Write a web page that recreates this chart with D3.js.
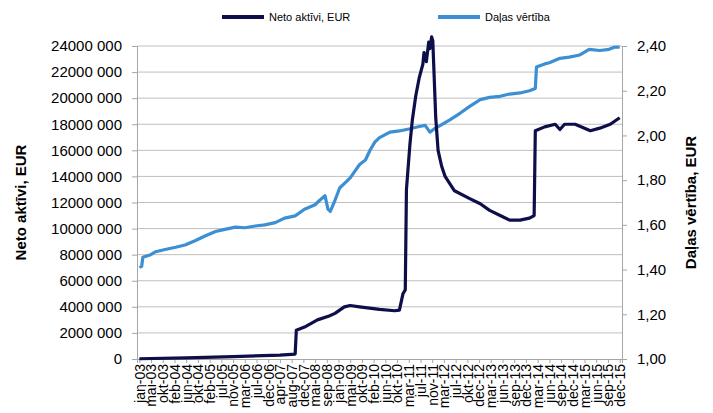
<!DOCTYPE html>
<html>
<head>
<meta charset="utf-8">
<script src="https://cdn.jsdelivr.net/npm/d3@7"></script>
<style>
  body { margin: 0; background: #fff; }
  text { font-family: "Liberation Sans", Arial, sans-serif; }
</style>
</head>
<body>
<script>
// x labels, one every 10 observations
const labels = ['jan-03','mai-03','okt-03','feb-04','jun-04','okt-04','feb-05','jul-05','nov-05','mar-06',
  'jul-06','dec-06','apr-07','aug-07','dec-07','mai-08','sep-08','jan-09','mai-09','okt-09',
  'feb-10','jun-10','okt-10','mar-11','jul-11','nov-11','mar-12','jul-12','okt-12','dec-12',
  'mar-13','jun-13','sep-13','dec-13','mar-14','jun-14','sep-14','dec-14','mar-15','jun-15',
  'sep-15','dec-15']

// Neto aktivi, EUR  [observation, value]
const netAssets = [
  [0, 20000], [40, 80000], [80, 180000], [120, 300000], [133, 380000], [134, 2200000],
  [141, 2450000], [152, 3000000], [162, 3300000], [167, 3500000], [175, 4000000], [180, 4100000],
  [188, 4000000], [205, 3800000], [218, 3700000], [222, 3750000], [225, 5000000], [227, 5300000],
  [228, 13000000], [231, 16500000], [233, 18300000], [236, 20200000], [239, 21600000], [242, 22600000],
  [243, 23500000], [245, 22800000], [247, 24300000], [248, 23800000], [249.5, 24700000], [250.5, 24400000],
  [253, 18500000], [255, 16000000], [258, 14800000], [261, 14000000], [269, 12900000], [282, 12300000],
  [291, 11900000], [299, 11400000], [308, 11000000], [316, 10650000], [325, 10650000], [333, 10800000],
  [337, 11000000], [338, 17500000], [346, 17800000], [355, 18000000], [359, 17600000], [363, 18000000],
  [372, 18000000], [385, 17500000], [393, 17700000], [402, 18000000], [410, 18500000]
]

// Dalas vertiba  [observation, value]
const unitValue = [
  [0, 1.41], [2, 1.415], [3, 1.455], [9, 1.465], [14, 1.48], [22, 1.49], [31, 1.50], [39, 1.51],
  [48, 1.53], [56, 1.55], [65, 1.57], [73, 1.58], [82, 1.59], [90, 1.587], [99, 1.595], [107, 1.60],
  [116, 1.61], [124, 1.63], [133, 1.64], [141, 1.67], [150, 1.69], [154, 1.71], [158.5, 1.73],
  [161, 1.67], [163, 1.66], [167, 1.71], [171, 1.765], [176, 1.79], [180, 1.81], [184, 1.84],
  [188, 1.87], [193, 1.89], [197, 1.935], [201, 1.97], [205, 1.99], [214, 2.015], [222, 2.02],
  [231, 2.03], [239, 2.04], [244, 2.045], [248, 2.015], [252, 2.03], [257, 2.045], [265, 2.07],
  [274, 2.10], [282, 2.13], [291, 2.16], [299, 2.17], [308, 2.175], [316, 2.185], [325, 2.19],
  [333, 2.20], [338, 2.21], [339, 2.306], [346, 2.32], [350, 2.325], [359, 2.345], [367, 2.35],
  [376, 2.36], [384, 2.385], [393, 2.38], [401, 2.385], [406, 2.395], [410, 2.395]
]

const leftTicks = d3.range(0, 24000001, 2000000)
const rightTicks = d3.range(1, 2.401, 0.2)

const W = 713, H = 413
const m = { top: 46, right: 91, bottom: 54, left: 137 }
const iw = W - m.left - m.right, ih = H - m.top - m.bottom

const svg = d3.select('body').append('svg')
  .attr('width', W).attr('height', H)

const g = svg.append('g').attr('transform', `translate(${m.left},${m.top})`)

const x = d3.scaleLinear().domain([-2, 412]).range([0, iw])
const yL = d3.scaleLinear().domain([0, 24000000]).range([ih, 0])
const yR = d3.scaleLinear().domain([1, 2.4]).range([ih, 0])

const fmtL = d => d === 0 ? '0' : d3.format(',')(d).replace(/,/, '').replace(/,/g, ' ')
const fmtR = d => d.toFixed(2).replace('.', ',')

// grid
g.selectAll('.grid').data(leftTicks.slice(1)).enter().append('line')
  .attr('x1', 0).attr('x2', iw)
  .attr('y1', d => yL(d)).attr('y2', d => yL(d))
  .attr('stroke', '#bfbfbf').attr('stroke-width', 1)

// left axis
const axL = g.append('g').call(d3.axisLeft(yL).tickValues(leftTicks).tickFormat(fmtL).tickSize(5).tickPadding(10))
axL.select('.domain').attr('stroke', '#a6a6a6')
axL.selectAll('line').attr('stroke', '#a6a6a6')
axL.selectAll('text').attr('font-size', 15).attr('fill', '#000').attr('font-family', '"Liberation Sans", Arial, sans-serif')

// right axis
const axR = g.append('g').attr('transform', `translate(${iw},0)`)
  .call(d3.axisRight(yR).tickValues(rightTicks).tickFormat(fmtR).tickSize(5).tickPadding(10))
axR.select('.domain').attr('stroke', '#a6a6a6')
axR.selectAll('line').attr('stroke', '#a6a6a6')
axR.selectAll('text').attr('font-size', 15).attr('fill', '#000').attr('font-family', '"Liberation Sans", Arial, sans-serif')

// bottom axis
const axB = g.append('g').attr('transform', `translate(0,${ih})`)
  .call(d3.axisBottom(x).tickValues(labels.map((d, i) => i * 10)).tickFormat((d, i) => labels[i]).tickSize(4).tickPadding(4))
axB.select('.domain').attr('stroke', '#a6a6a6')
axB.selectAll('line').attr('stroke', '#a6a6a6')
axB.selectAll('text')
  .attr('font-size', 14).attr('fill', '#000').attr('font-family', '"Liberation Sans", Arial, sans-serif')
  .attr('transform', 'rotate(-90)')
  .attr('text-anchor', 'end').attr('dy', '0.35em').attr('x', -5).attr('y', 0)

// lines
const lineL = d3.line().x(d => x(d[0])).y(d => yL(d[1]))
const lineR = d3.line().x(d => x(d[0])).y(d => yR(d[1]))

g.append('path').datum(unitValue).attr('d', lineR)
  .attr('fill', 'none').attr('stroke', '#3b8fd2').attr('stroke-width', 3.2).attr('stroke-linejoin', 'round')
g.append('path').datum(netAssets).attr('d', lineL)
  .attr('fill', 'none').attr('stroke', '#0e0e4a').attr('stroke-width', 3.2).attr('stroke-linejoin', 'round')

// axis titles
svg.append('text').attr('transform', `translate(26,${m.top + ih / 2}) rotate(-90)`)
  .attr('text-anchor', 'middle').attr('font-size', 15).attr('font-weight', 'bold')
  .text('Neto aktīvi, EUR')
svg.append('text').attr('transform', `translate(696,${m.top + ih / 2}) rotate(-90)`)
  .attr('text-anchor', 'middle').attr('font-size', 15).attr('font-weight', 'bold')
  .text('Daļas vērtība, EUR')

// legend
const legend = [
  { name: 'Neto aktīvi, EUR', color: '#0e0e4a', x: 222 },
  { name: 'Daļas vērtība', color: '#3b8fd2', x: 438 }
]
const lg = svg.selectAll('.lg').data(legend).enter().append('g')
  .attr('transform', d => `translate(${d.x},17)`)
lg.append('line').attr('x1', 0).attr('x2', 42).attr('stroke', d => d.color).attr('stroke-width', 4)
lg.append('text').attr('x', 47).attr('dy', '0.35em').attr('font-size', 11).text(d => d.name)
</script>
</body>
</html>
